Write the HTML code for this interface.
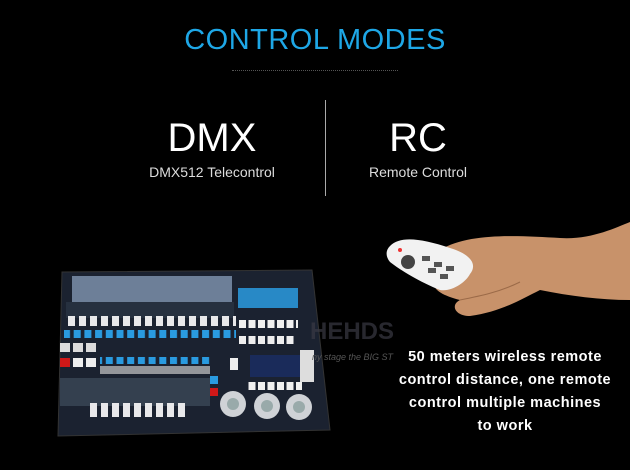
<!DOCTYPE html>
<html><head><style>
html,body{margin:0;padding:0;background:#000;}
.w{position:relative;width:630px;height:470px;overflow:hidden;background:#000;font-family:"Liberation Sans",sans-serif;}
.t{position:absolute;left:0;width:630px;text-align:center;top:24px;color:#1ea7e6;font-size:29px;letter-spacing:0.5px;}
.sm{position:absolute;left:232px;width:166px;top:70px;height:2px;border-top:1px dotted #555;}
.big{position:absolute;color:#fff;font-size:40px;font-weight:300;text-align:center;width:200px;top:116px;}
.sub{position:absolute;color:#ddd;font-size:14px;text-align:center;width:200px;top:164px;}
.div{position:absolute;left:325px;top:100px;width:1px;height:96px;background:#aaa;}
.r{position:absolute;left:378px;width:254px;text-align:center;color:#fff;font-weight:bold;font-size:14.5px;line-height:23px;top:346px;letter-spacing:0.5px;}
</style></head><body><div class="w">
<div class="t">CONTROL MODES</div>
<div class="sm"></div>
<div class="big" style="left:112px">DMX</div>
<div class="sub" style="left:112px">DMX512 Telecontrol</div>
<div class="div"></div>
<div class="big" style="left:318px">RC</div>
<div class="sub" style="left:318px">Remote Control</div>
<svg width="630" height="470" style="position:absolute;left:0;top:0">
<defs>
<pattern id="fad" x="66" y="0" width="11" height="470" patternUnits="userSpaceOnUse"><rect x="2" y="0" width="7" height="470" fill="#e8e8ea"/></pattern>
<pattern id="blu" x="62" y="0" width="10.7" height="470" patternUnits="userSpaceOnUse"><rect x="1" y="0" width="7" height="470" fill="#2a9be0"/></pattern>
<pattern id="wht" x="238" y="0" width="9.5" height="470" patternUnits="userSpaceOnUse"><rect x="1" y="0" width="7" height="470" fill="#f0f0f0"/></pattern>
</defs>
<polygon points="62,272 312,270 330,430 58,436" fill="#1b2230" stroke="#333" />
<rect x="72" y="276" width="160" height="26" fill="#6d7f98"/>
<rect x="66" y="302" width="168" height="16" fill="#26303f"/>
<rect x="66" y="316" width="170" height="10" fill="url(#fad)"/>
<rect x="64" y="330" width="172" height="8" fill="url(#blu)"/>
<rect x="238" y="288" width="60" height="20" fill="#2a9be0" opacity="0.85"/>
<rect x="238" y="320" width="60" height="8" fill="url(#wht)"/>
<rect x="238" y="336" width="58" height="8" fill="url(#wht)"/>
<rect x="60" y="343" width="10" height="9" fill="#dcdcdc"/><rect x="73" y="343" width="10" height="9" fill="#dcdcdc"/><rect x="86" y="343" width="10" height="9" fill="#dcdcdc"/>
<rect x="60" y="358" width="10" height="9" fill="#d01818"/><rect x="73" y="358" width="10" height="9" fill="#eee"/><rect x="86" y="358" width="10" height="9" fill="#eee"/>
<rect x="100" y="357" width="110" height="7" fill="url(#blu)"/>
<rect x="100" y="366" width="110" height="8" fill="#c8c8c8" opacity="0.7"/>
<rect x="60" y="378" width="150" height="28" fill="#34404f"/>
<rect x="86" y="403" width="100" height="14" fill="url(#fad)"/>
<rect x="210" y="376" width="8" height="8" fill="#2a9be0"/><rect x="210" y="388" width="8" height="8" fill="#d01818"/>
<rect x="230" y="358" width="8" height="12" fill="#eee"/>
<rect x="250" y="355" width="52" height="22" fill="#1a2b5a"/>
<rect x="248" y="382" width="54" height="8" fill="url(#wht)"/>
<rect x="300" y="350" width="14" height="32" fill="#ddd"/>
<circle cx="233" cy="404" r="13" fill="#cfd2d6"/><circle cx="233" cy="404" r="6" fill="#9aa"/>
<circle cx="267" cy="406" r="13" fill="#cfd2d6"/><circle cx="267" cy="406" r="6" fill="#9aa"/>
<circle cx="299" cy="407" r="13" fill="#cfd2d6"/><circle cx="299" cy="407" r="6" fill="#9aa"/>
<text x="310" y="339" font-family="Liberation Sans" font-weight="bold" font-size="24" fill="#3a3a44" opacity="0.7">HEHDS</text>
<text x="312" y="360" font-family="Liberation Sans" font-style="italic" font-size="9" fill="#555">ny stage the BIG ST</text>
<path d="M440,250 C470,232 520,236 560,238 C590,240 615,228 630,222 L630,300 C600,300 570,296 540,290 C520,300 500,312 470,316 C455,316 450,305 460,300 C440,295 430,288 435,278 C425,272 428,262 440,258 Z" fill="#c8926a"/>
<path d="M460,300 C480,296 500,292 520,282" stroke="#9b6a48" fill="none"/>
<path d="M390,246 C400,236 420,238 450,248 C470,254 478,264 470,274 C466,282 452,292 440,290 C420,282 400,270 390,262 C385,256 386,250 390,246 Z" fill="#f2f2f2"/>
<circle cx="400" cy="250" r="2" fill="#e33"/>
<circle cx="408" cy="262" r="7" fill="#444"/>
<rect x="422" y="256" width="8" height="5" fill="#555"/><rect x="434" y="262" width="8" height="5" fill="#555"/><rect x="446" y="266" width="8" height="5" fill="#555"/>
<rect x="428" y="268" width="8" height="5" fill="#555"/><rect x="440" y="274" width="8" height="5" fill="#555"/>
</svg>
<div class="r">50 meters wireless remote<br>control distance, one remote<br>control multiple machines<br>to work</div>
</div></body></html>
